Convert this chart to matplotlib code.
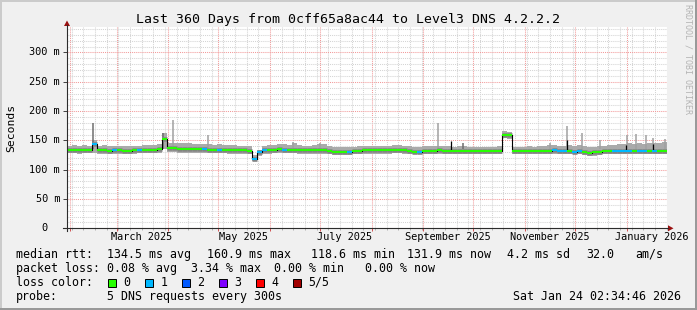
import datetime as dt
import numpy as np
import matplotlib
matplotlib.use("Agg")
import matplotlib.pyplot as plt
import matplotlib.dates as mdates
import matplotlib.transforms as mtrans
from matplotlib.lines import Line2D
from matplotlib.patches import Rectangle, Polygon

W, H = 697, 310
MONO = "DejaVu Sans Mono"
plt.rcParams["font.family"] = MONO

# time window of the graph (360 days, 3-day buckets)
start = dt.datetime(2025, 1, 30, 4, 40)
span_days = 360
step_days = 3

# median rtt per bucket (ms)
median_ms = [133.5, 133.5, 133, 133.5, 133.5, 143.5, 133, 133, 132.5, 133,
             133, 131.5, 132.5, 133, 133.5, 133.5, 134, 134, 134.5, 153,
             137, 136.5, 136, 136, 135.5, 135, 134.5, 134.5, 134, 133.5,
             134, 133.5, 133.5, 133, 133, 133, 132, 119, 130, 133,
             133.5, 134, 134.5, 134, 134, 133.5, 133, 133, 133, 133,
             134, 133, 131.5, 130, 130, 130, 130.5, 131.5, 132.5, 133,
             133, 133, 133, 133, 133.5, 133.5, 133.5, 133, 132, 131,
             131, 131.5, 131.5, 132, 133, 132.5, 132, 131.5, 131.5, 131.5,
             131.5, 131.5, 131.5, 131.5, 131.5, 131.5, 132, 160, 159, 132,
             132, 132, 132, 131.5, 132, 132, 132.5, 133, 132, 131.5,
             132, 131, 131.5, 130, 129, 129.5, 130.5, 131.5, 131.5, 132,
             132, 132.5, 132, 132.5, 132, 131.5, 131.5, 132, 131.5, 131.5]
# fastest / slowest of the 5 requests per bucket (ms)
low_ms = [128, 128, 127, 128, 128, 129, 127, 127, 127, 127,
          127, 126, 127, 127, 128, 128, 128, 128, 129, 135,
          130, 130, 129, 129, 129, 129, 128, 128, 128, 128,
          128, 128, 127, 127, 127, 127, 126, 115, 124, 127,
          127, 128, 128, 128, 128, 128, 127, 127, 127, 127,
          127, 126, 126, 125, 125, 125, 125, 126, 127, 127,
          127, 127, 127, 127, 127, 128, 128, 127, 126, 126,
          126, 126, 126, 126, 127, 127, 126, 126, 126, 126,
          126, 126, 126, 126, 126, 126, 126, 154, 153, 126,
          126, 126, 126, 126, 126, 126, 126, 127, 126, 126,
          126, 126, 126, 125, 124, 124, 125, 126, 126, 126,
          126, 126, 126, 126, 126, 126, 126, 126, 126, 126]
high_ms = [141, 142, 141, 142, 141, 150, 141, 142, 141, 141,
           140, 140, 141, 141, 141, 142, 142, 142, 143, 163,
           146, 146, 145, 146, 145, 144, 144, 143, 143, 142,
           143, 142, 142, 142, 141, 141, 140, 125, 134, 141,
           142, 142, 143, 143, 142, 145, 142, 141, 141, 142,
           144, 143, 140, 138, 138, 138, 138, 139, 140, 141,
           141, 140, 140, 141, 141, 142, 142, 141, 140, 139,
           139, 140, 140, 141, 141, 140, 140, 139, 140, 141,
           139, 139, 139, 139, 139, 139, 140, 166, 165, 139,
           139, 139, 140, 139, 140, 141, 142, 142, 141, 141,
           142, 141, 142, 140, 139, 139, 141, 141, 142, 142,
           143, 143, 145, 144, 145, 144, 146, 145, 145, 147]
# lost requests (of 5) per bucket
loss = [0, 0, 0, 0, 0, 1, 0, 0, 0, 1,
        0, 0, 0, 0, 1, 0, 0, 0, 0, 0,
        0, 0, 0, 0, 0, 0, 0, 1, 0, 0,
        1, 0, 0, 0, 0, 0, 0, 1, 1, 1,
        0, 0, 0, 1, 0, 0, 0, 0, 0, 0,
        0, 0, 0, 0, 0, 0, 1, 0, 0, 0,
        0, 0, 0, 0, 0, 0, 0, 0, 0, 0,
        1, 0, 0, 0, 0, 0, 0, 0, 0, 0,
        0, 0, 0, 0, 0, 0, 0, 0, 0, 0,
        0, 0, 0, 0, 0, 0, 0, 1, 1, 1,
        0, 1, 1, 0, 0, 0, 0, 0, 0, 1,
        1, 1, 1, 0, 1, 1, 0, 1, 0, 0]

# single slow samples sticking out of the smoke
spike_times = ["2025-02-14 14:00", "2025-03-28 12:00", "2025-04-03 14:00",
               "2025-04-24 12:00", "2025-06-14 19:00", "2025-06-30 23:00",
               "2025-09-10 00:00", "2025-09-24 19:00", "2025-11-15 23:00",
               "2025-11-26 09:00", "2025-12-05 00:00", "2025-12-15 23:00",
               "2026-01-01 00:00", "2026-01-06 14:00", "2026-01-12 14:00",
               "2026-01-17 00:00", "2026-01-24 00:00"]
spike_top = [180, 163, 185, 160, 148, 145, 180, 146, 146, 175, 162, 150,
             159, 161, 160, 154, 152]
spike_dark = [1, 1, 0, 0, 0, 0, 0, 1, 0, 0, 0, 0, 0, 0, 0, 0, 0]

# short median jumps (black line)
med_spike_times = ["2025-09-17 10:00", "2025-11-26 09:00", "2025-12-31 12:00",
                   "2026-01-16 12:00"]
med_spike_top = [149.5, 150, 142, 144]

loss_colors = ["#26ff00", "#00b8ff", "#0059ff", "#7e00ff", "#ff0000", "#a10000"]
loss_names = ["0", "1", "2", "3", "4", "5/5"]

month_labels = ["March 2025", "May 2025", "July 2025", "September 2025",
                "November 2025", "January 2026"]
month_firsts = [dt.datetime(2025, 3, 1), dt.datetime(2025, 5, 1),
                dt.datetime(2025, 7, 1), dt.datetime(2025, 9, 1),
                dt.datetime(2025, 11, 1), dt.datetime(2026, 1, 1)]

y_ticks = [0, 50, 100, 150, 200, 250, 300]


def fx(x):
    return x / W


def fy(y):
    return 1 - y / H


fig = plt.figure(figsize=(W / 100, H / 100), dpi=100, facecolor="#f0f0f0")

# rrdtool style frame shading
fig.patches.append(Rectangle((0, fy(2)), 1, 2 / H, transform=fig.transFigure,
                             color="#cbcbcb", lw=0))
fig.patches.append(Rectangle((0, 0), 2 / W, 1, transform=fig.transFigure,
                             color="#cbcbcb", lw=0))
fig.patches.append(Rectangle((0, 0), 1, 2 / H, transform=fig.transFigure,
                             color="#999999", lw=0))
fig.patches.append(Rectangle((fx(W - 2), 0), 2 / W, 1, transform=fig.transFigure,
                             color="#999999", lw=0))

ax = fig.add_axes([fx(67), fy(228.3), 600 / W, (228.3 - 27) / H])
ax.set_facecolor("white")

t0 = mdates.date2num(start)
n = len(median_ms)
edges = t0 + step_days * np.arange(n + 1)
med_ext = np.append(median_ms, median_ms[-1])
lo_ext = np.append(low_ms, low_ms[-1])
hi_ext = np.append(high_ms, high_ms[-1])

# smoke
ax.fill_between(edges, lo_ext, hi_ext, step="post", color="#aaaaaa", lw=0, zorder=2)
st = mdates.date2num([dt.datetime.strptime(s, "%Y-%m-%d %H:%M") for s in spike_times])
for x, top, dark in zip(st, spike_top, spike_dark):
    ax.vlines(x, 135, top, color="#6e6e6e" if dark else "#a0a0a0", lw=1.1, zorder=2)
ax.hlines(median_ms, edges[:-1], edges[1:], colors="#8a8a8a", lw=3.4, zorder=3)

# median line
ax.step(edges, med_ext, where="post", color="black", lw=0.8, zorder=4)
ms = mdates.date2num([dt.datetime.strptime(s, "%Y-%m-%d %H:%M") for s in med_spike_times])
for x, top in zip(ms, med_spike_top):
    ax.vlines(x, 132, top, color="black", lw=0.9, zorder=4)
ax.hlines(median_ms, edges[:-1], edges[1:], colors=[loss_colors[l] for l in loss],
          lw=1.5, zorder=5)

ax.set_xlim(t0, t0 + span_days)
ax.set_ylim(0, 343.5)

# grid
ax.xaxis.set_major_locator(mdates.MonthLocator())
ax.xaxis.set_minor_locator(mdates.WeekdayLocator(byweekday=mdates.SU))
ax.yaxis.set_major_locator(matplotlib.ticker.MultipleLocator(50))
ax.yaxis.set_minor_locator(matplotlib.ticker.MultipleLocator(10))
ax.grid(which="minor", color="#d4d4d4", lw=0.75, ls=(0, (1, 1)), zorder=1)
ax.grid(which="major", color="#f29a9a", lw=0.75, ls=(0, (1, 1)), zorder=1)
ax.set_axisbelow(True)
ax.xaxis.set_major_formatter(matplotlib.ticker.NullFormatter())
ax.yaxis.set_major_formatter(matplotlib.ticker.NullFormatter())
ax.tick_params(axis="x", which="major", length=2.2, width=0.7, color="#d05050", direction="out")
ax.tick_params(axis="x", which="minor", length=1.5, width=0.7, color="#b0b0b0", direction="out")
ax.tick_params(axis="y", which="major", length=2.8, width=0.7, color="#404040", direction="out")
ax.tick_params(axis="y", which="minor", length=0)
for s in ax.spines.values():
    s.set_visible(False)

# axes with arrows
axis_col = "#2c2c2c"
fig.add_artist(Line2D([fx(63), fx(668)], [fy(228.3), fy(228.3)], color=axis_col, lw=0.8))
fig.add_artist(Line2D([fx(67), fx(67)], [fy(231), fy(25)], color=axis_col, lw=0.8))
fig.add_artist(Polygon([(fx(673.5), fy(228.3)), (fx(668), fy(225.3)), (fx(668), fy(231.3))],
                       closed=True, transform=fig.transFigure, color="#9a1010", lw=0))
fig.add_artist(Polygon([(fx(67), fy(20.5)), (fx(64), fy(26)), (fx(70), fy(26))],
                       closed=True, transform=fig.transFigure, color="#9a1010", lw=0))

# tick labels
tr_x = mtrans.blended_transform_factory(ax.transData, fig.transFigure)
for d, lab in zip(month_firsts, month_labels):
    ax.text(mdates.date2num(d) + 15, fy(237.5), lab, transform=tr_x,
            ha="center", va="center", fontsize=7.4, family=MONO)
tr_y = mtrans.blended_transform_factory(fig.transFigure, ax.transData)
for v in y_ticks:
    if v == 0:
        ax.text(fx(47.5), v, "0", transform=tr_y, ha="right", va="center",
                fontsize=7.4, family=MONO)
    else:
        ax.text(fx(60), v, f"{v} m", transform=tr_y, ha="right", va="center",
                fontsize=7.4, family=MONO)

fig.text(fx(348.5), fy(19.5), "Last 360 Days from 0cff65a8ac44 to Level3 DNS 4.2.2.2",
         ha="center", va="center", fontsize=9.5, family=MONO)
fig.text(fx(11), fy(127.5), "Seconds", rotation=90, ha="center", va="center",
         fontsize=8.2, family=MONO)
fig.text(fx(688), fy(4), "RRDTOOL / TOBI OETIKER", rotation=270, ha="center", va="top",
         fontsize=6.0, family=MONO, color="#b4b4b4")

# legend
rows = [
    (254.3, [(16, "median rtt:"), (107.3, "134.5 ms avg"), (207.3, "160.9 ms max"),
             (311, "118.6 ms min"), (407.3, "131.9 ms now"), (507.3, "4.2 ms sd"),
             (586, "32.0"), (635, "am/s")]),
    (268.3, [(16, "packet loss:"), (107.3, "0.08 % avg"), (191, "3.34 % max"),
             (274, "0.00 % min"), (365.3, "0.00 % now")]),
    (282.3, [(16, "loss color:")]),
    (296.3, [(16, "probe:"), (107.3, "5 DNS requests every 300s"),
             (513.3, "Sat Jan 24 02:34:46 2026")]),
]
for y, items in rows:
    for x, s in items:
        fig.text(fx(x), fy(y), s, ha="left", va="center", fontsize=8.4, family=MONO)

for i, (c, name) in enumerate(zip(loss_colors, loss_names)):
    x = 108.3 + 37 * i
    fig.patches.append(Rectangle((fx(x), fy(286.5)), 8 / W, 8 / H, transform=fig.transFigure,
                                 facecolor=c, edgecolor="black", lw=0.7))
    fig.text(fx(x + 15), fy(282.3), name, ha="left", va="center", fontsize=8.4, family=MONO)

fig.savefig("out.png", dpi=100, facecolor=fig.get_facecolor())
